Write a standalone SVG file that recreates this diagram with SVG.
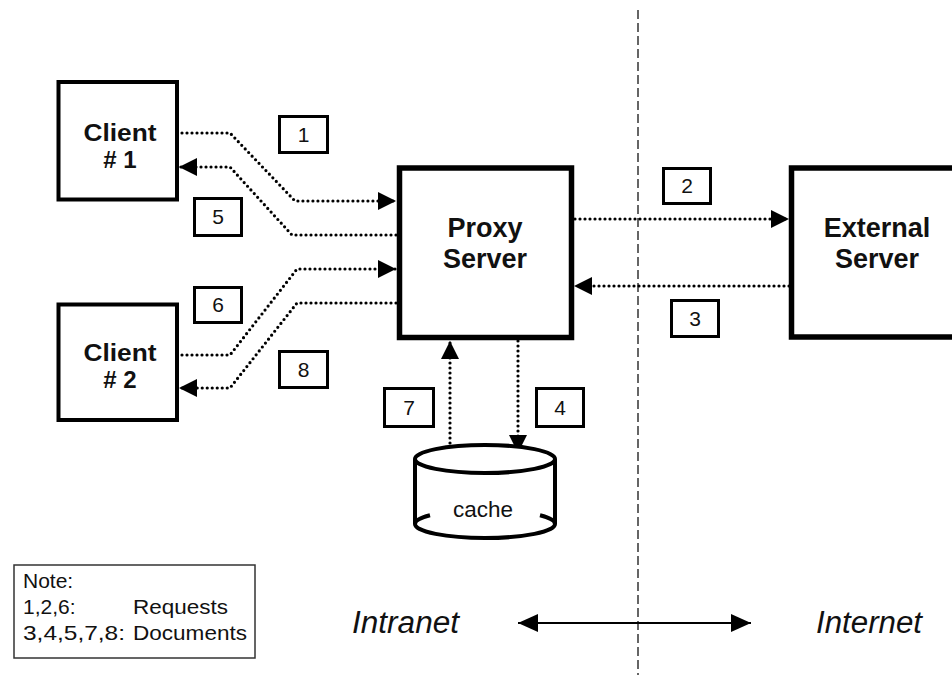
<svg xmlns="http://www.w3.org/2000/svg" width="952" height="675" viewBox="0 0 952 675">
<style>
.box{fill:#fff;stroke:#000;stroke-width:4}
.big{fill:#fff;stroke:#000;stroke-width:5.5}
.lbl{fill:#fff;stroke:#000;stroke-width:3}
.bt{font-family:"Liberation Sans",Arial,sans-serif;font-weight:bold;font-size:27px;text-anchor:middle;fill:#111}
.ct{font-family:"Liberation Sans",Arial,sans-serif;font-weight:bold;font-size:24px;text-anchor:middle;fill:#111}
.num{font-family:"Liberation Sans",Arial,sans-serif;font-size:21px;text-anchor:middle;fill:#111}
.dot{fill:none;stroke:#000;stroke-width:3.2;stroke-dasharray:0 5;stroke-linecap:round}
.note{font-family:"Liberation Sans",Arial,sans-serif;font-size:21px;fill:#111}
.it{font-family:"Liberation Sans",Arial,sans-serif;font-style:italic;font-size:31px;fill:#111}
</style>
<defs>
<marker id="ah" markerUnits="userSpaceOnUse" viewBox="0 0 18 18" refX="18" refY="9" markerWidth="18" markerHeight="18" orient="auto">
<path d="M0,0 L18,9 L0,18 z" fill="#000"/>
</marker>
<marker id="ah2" markerUnits="userSpaceOnUse" viewBox="0 0 20 18" refX="20" refY="9" markerWidth="20" markerHeight="18" orient="auto-start-reverse">
<path d="M0,0 L20,9 L0,18 z" fill="#000"/>
</marker>
</defs>
<rect width="952" height="675" fill="#fff"/>

<line x1="638" y1="10" x2="638" y2="675" stroke="#333" stroke-width="1.5" stroke-dasharray="9 4"/>

<g id="connectors">
<path class="dot" d="M182,133 H230 L295,201 H396" marker-end="url(#ah)"/>
<path class="dot" d="M396,235 H292 L230,167 H179" marker-end="url(#ah)"/>
<path class="dot" d="M182,355 H230 L297,269 H396" marker-end="url(#ah)"/>
<path class="dot" d="M396,303 H297 L230,388 H179" marker-end="url(#ah)"/>
<path class="dot" d="M575,219 H789" marker-end="url(#ah)"/>
<path class="dot" d="M789,286 H574" marker-end="url(#ah)"/>
<path class="dot" d="M450,453 V341" marker-end="url(#ah)"/>
<path class="dot" d="M518,341 V453" marker-end="url(#ah)"/>
<line x1="518" y1="623" x2="751" y2="623" stroke="#000" stroke-width="2" marker-start="url(#ah2)" marker-end="url(#ah2)"/>
</g>

<g id="client1">
<rect class="box" x="58.5" y="82" width="118.5" height="117.5"/>
<text class="ct" x="120" y="141" textLength="73" lengthAdjust="spacingAndGlyphs">Client</text>
<text class="ct" x="120" y="168"># 1</text>
</g>
<g id="client2">
<rect class="box" x="58.5" y="304.5" width="118.5" height="115.5"/>
<text class="ct" x="120" y="361" textLength="73" lengthAdjust="spacingAndGlyphs">Client</text>
<text class="ct" x="120" y="388"># 2</text>
</g>
<g id="proxy">
<rect class="big" x="399.5" y="168" width="172" height="169.5"/>
<text class="bt" x="485" y="237">Proxy</text>
<text class="bt" x="485" y="268">Server</text>
</g>
<g id="external">
<rect class="big" x="791.5" y="168" width="200" height="169"/>
<text class="bt" x="877" y="237">External</text>
<text class="bt" x="877" y="268">Server</text>
</g>
<g id="cache">
<path d="M415,459 V524 A70,14 0 0 0 555,524 V459" fill="#fff" stroke="#000" stroke-width="4"/>
<path d="M415,524 A70,14 0 0 1 430,515.3 M555,524 A70,14 0 0 0 540,515.3" fill="none" stroke="#000" stroke-width="4"/>
<ellipse cx="485" cy="459" rx="70" ry="14" fill="#fff" stroke="#000" stroke-width="4"/>
<text x="483" y="517" font-family="Liberation Sans, Arial, sans-serif" font-size="22" text-anchor="middle" fill="#111" textLength="60" lengthAdjust="spacingAndGlyphs">cache</text>
</g>

<g id="label1"><rect class="lbl" x="279.5" y="116.5" width="48" height="36"/><text class="num" x="303.5" y="142">1</text></g>
<g id="label5"><rect class="lbl" x="194.5" y="198.5" width="47" height="37"/><text class="num" x="218" y="224">5</text></g>
<g id="label6"><rect class="lbl" x="194.5" y="287.5" width="47" height="35"/><text class="num" x="218" y="312">6</text></g>
<g id="label8"><rect class="lbl" x="279.5" y="351.5" width="48" height="36"/><text class="num" x="303.5" y="377">8</text></g>
<g id="label2"><rect class="lbl" x="663.5" y="168.5" width="47" height="35"/><text class="num" x="687" y="193">2</text></g>
<g id="label3"><rect class="lbl" x="671.5" y="300.5" width="47" height="36"/><text class="num" x="695" y="326">3</text></g>
<g id="label7"><rect class="lbl" x="384.5" y="388.5" width="49" height="38"/><text class="num" x="409" y="415">7</text></g>
<g id="label4"><rect class="lbl" x="536.5" y="388.5" width="47" height="38"/><text class="num" x="560" y="415">4</text></g>

<g id="note">
<rect x="14" y="565" width="241" height="93" fill="#fff" stroke="#333" stroke-width="1.5"/>
<text class="note" x="23" y="588">Note:</text>
<text class="note" x="23" y="614">1,2,6:</text>
<text class="note" x="133" y="614" textLength="95" lengthAdjust="spacingAndGlyphs">Requests</text>
<text class="note" x="23" y="640" textLength="102" lengthAdjust="spacingAndGlyphs">3,4,5,7,8:</text>
<text class="note" x="133" y="640" textLength="114" lengthAdjust="spacingAndGlyphs">Documents</text>
</g>

<text class="it" x="352" y="633" textLength="107" lengthAdjust="spacingAndGlyphs">Intranet</text>
<text class="it" x="816" y="633" textLength="106" lengthAdjust="spacingAndGlyphs">Internet</text>
</svg>
